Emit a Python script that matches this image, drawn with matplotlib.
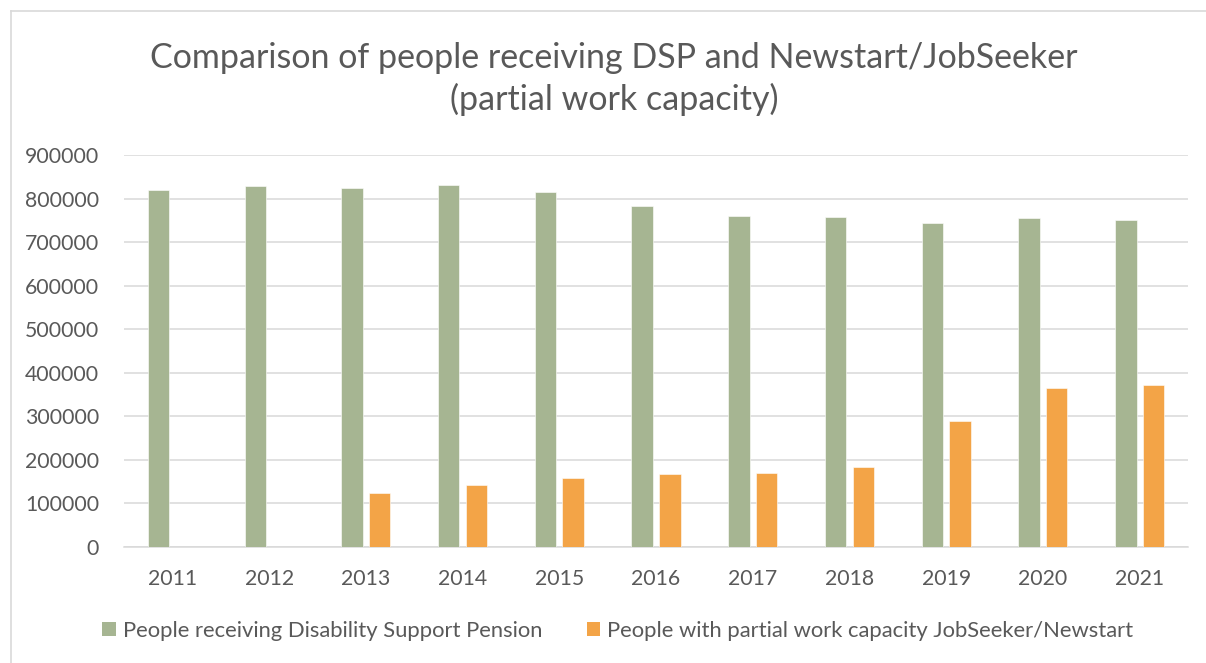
import matplotlib
matplotlib.use("Agg")
import matplotlib.pyplot as plt
import numpy as np
from matplotlib.patches import Rectangle
from matplotlib.lines import Line2D

years = ["2011", "2012", "2013", "2014", "2015", "2016", "2017", "2018", "2019", "2020", "2021"]
dsp = [819000, 828000, 825000, 831000, 814000, 784000, 759000, 757000, 745000, 755000, 751000]
jobseeker = [np.nan, np.nan, 123000, 143000, 158000, 168000, 170000, 183000, 289000, 365000, 372000]
series_names = ["People receiving Disability Support Pension",
                "People with partial work capacity JobSeeker/Newstart"]
yticks = [0, 100000, 200000, 300000, 400000, 500000, 600000, 700000, 800000, 900000]
title = "Comparison of people receiving DSP and Newstart/JobSeeker\n(partial work capacity)"

green = "#A6B592"
orange = "#F3A447"
txt = "#595959"
grid = "#D9D9D9"
FONT = ["Lato", "DejaVu Sans"]
plt.rcParams['font.family'] = FONT

W, H = 1206, 663
fig = plt.figure(figsize=(W / 100, H / 100), dpi=100)

# outer chart border (only left and top edges are visible in the crop)
bx, by = 11 / W, 1 - 11 / H
fig.add_artist(Line2D([bx, bx], [0, by], transform=fig.transFigure, color=grid, linewidth=1.2))
fig.add_artist(Line2D([bx, 1], [by, by], transform=fig.transFigure, color=grid, linewidth=1.2))

L, R, T, B = 124, 1188, 155, 547
ax = fig.add_axes([L / W, 1 - B / H, (R - L) / W, (B - T) / H])

x = np.arange(len(years))
bw = 0.222
off = 0.143
ax.bar(x - off, dsp, width=bw, color=green, edgecolor="white", linewidth=0.4, zorder=3)
ax.bar(x + off, jobseeker, width=bw, color=orange, edgecolor="white", linewidth=0.4, zorder=3)

ax.set_xlim(-0.5, len(years) - 0.5)
ax.set_ylim(0, 900000)
ax.set_yticks(yticks)
ax.set_yticklabels([str(v) for v in yticks])
ax.set_xticks(x)
ax.set_xticklabels(years)
ax.yaxis.grid(True, color=grid, linewidth=1.1, zorder=0)
ax.set_axisbelow(True)
for s in ["top", "right", "left"]:
    ax.spines[s].set_visible(False)
ax.spines["bottom"].set_color(grid)
ax.spines["bottom"].set_linewidth(1.1)
ax.tick_params(axis="both", length=0, colors=txt, labelsize=15.3)
ax.tick_params(axis="y", pad=18)
ax.tick_params(axis="x", pad=16)

fig.text(614 / W, 1 - 79 / H, title, ha="center", va="center", fontsize=24.5,
         color=txt, linespacing=1.32)

handles = [Rectangle((0, 0), 1, 1, facecolor=green), Rectangle((0, 0), 1, 1, facecolor=orange)]
leg = fig.legend(handles, series_names, loc="center", bbox_to_anchor=(618 / W, 1 - 631 / H),
                 ncol=2, frameon=False, fontsize=15.8, handlelength=0.6, handleheight=0.6,
                 handletextpad=0.35, columnspacing=2.0)
for t in leg.get_texts():
    t.set_color(txt)

fig.savefig("out.png", dpi=100)
